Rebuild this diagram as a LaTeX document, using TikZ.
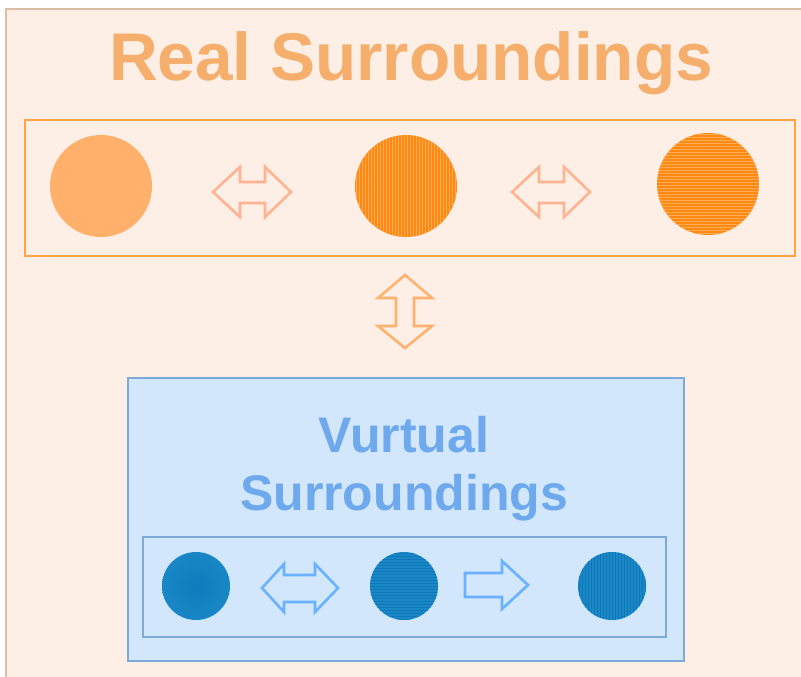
\documentclass[tikz,border=0pt]{standalone}
\usepackage{fontspec}
\setmainfont{Liberation Sans}
\definecolor{pagebg}{HTML}{FDEEE6}
\definecolor{pageedge}{HTML}{DDBFA8}
\definecolor{realtext}{HTML}{F5AE6C}
\definecolor{realframe}{HTML}{FFA346}
\definecolor{realsolid}{HTML}{FFB06A}
\definecolor{realdark}{HTML}{FF8A12}
\definecolor{reallight}{HTML}{FFAA55}
\definecolor{realarrow}{HTML}{FFB391}
\definecolor{relarrow}{HTML}{FFB36E}
\definecolor{virtfill}{HTML}{D2E6FC}
\definecolor{virtedge}{HTML}{7EAADA}
\definecolor{virttext}{HTML}{6EA9EE}
\definecolor{virtarrow}{HTML}{6AB2FF}
\definecolor{virtdot}{HTML}{1987C6}
\definecolor{virtdotdark}{HTML}{0F78B8}
\definecolor{virtdotcore}{HTML}{0E7CBC}
\tikzset{
  framebox/.style={draw=realframe, line width=1.3pt},
  virtbox/.style={draw=virtedge, fill=virtfill, line width=1.2pt},
  realhollow/.style={draw=realarrow, fill=pagebg, line width=2.6pt, line join=miter},
  linkhollow/.style={draw=relarrow, fill=pagebg, line width=2.6pt, line join=miter},
  virthollow/.style={draw=virtarrow, fill=virtfill, line width=2.6pt, line join=miter},
}
\begin{document}
\begin{tikzpicture}[x=1pt,y=-1pt]
\useasboundingbox (0,0) rectangle (801,677);
\begin{scope}
\clip (0,0) rectangle (801,677);
% page
\fill[white] (0,0) rectangle (801,677);
\draw[pageedge, fill=pagebg, line width=1.5pt] (6,9) rectangle (820,700);
\end{scope}

% title of the real part
\node[anchor=base, text=realtext, font=\fontsize{67.5}{68}\selectfont\bfseries, inner sep=0pt]
  (realtitle) at (411,81) {Real Surroundings};

% frame holding the real objects
\draw[framebox] (25,120) rectangle (795,256);

% real objects
\coordinate (r1) at (101,186);
\coordinate (r2) at (406,186);
\coordinate (r3) at (708,184);
\fill[realsolid] (r1) circle (51);
\fill[realdark] (r2) circle (51);
\begin{scope}
  \clip (r2) circle (51);
  \foreach \x in {356,359,...,458} \draw[reallight, line width=0.8pt] (\x,134) -- (\x,238);
\end{scope}
\fill[realdark] (r3) circle (51);
\begin{scope}
  \clip (r3) circle (51);
  \foreach \y in {134,137,...,236} \draw[reallight, line width=0.8pt] (656,\y) -- (760,\y);
\end{scope}

% hollow double arrows between the real objects
\draw[realhollow] (213,192) -- (240,167) -- (240,182) -- (265,182) -- (265,167) -- (291,192)
  -- (265,217) -- (265,203) -- (240,203) -- (240,217) -- cycle;
\draw[realhollow] (512,192) -- (539,167) -- (539,182) -- (564,182) -- (564,167) -- (590,192)
  -- (564,217) -- (564,203) -- (539,203) -- (539,217) -- cycle;

% link between the real and the virtual part
\draw[linkhollow] (405,275) -- (432,298) -- (414,298) -- (414,326) -- (432,326) -- (405,348)
  -- (378,326) -- (396,326) -- (396,298) -- (378,298) -- cycle;

% virtual part
\draw[virtbox] (128,378) rectangle (684,661);
\node[anchor=base, text=virttext, font=\fontsize{50}{50}\selectfont\bfseries, inner sep=0pt]
  (virttitle1) at (404,452) {Vurtual};
\node[anchor=base, text=virttext, font=\fontsize{50}{50}\selectfont\bfseries, inner sep=0pt]
  (virttitle2) at (404,510) {Surroundings};
\draw[draw=virtedge, line width=1.2pt] (143,537) rectangle (666,637);

% virtual objects
\coordinate (v1) at (196,586);
\coordinate (v2) at (404,586);
\coordinate (v3) at (612,586);
\shade[inner color=virtdotcore, outer color=virtdot] (v1) circle (34);
\fill[virtdot] (v2) circle (34);
\begin{scope}
  \clip (v2) circle (34);
  \foreach \y in {553,556,...,621} \draw[virtdotdark, line width=0.9pt] (369,\y) -- (439,\y);
\end{scope}
\fill[virtdot] (v3) circle (34);
\begin{scope}
  \clip (v3) circle (34);
  \foreach \x in {579,582,...,647} \draw[virtdotdark, line width=0.9pt] (\x,551) -- (\x,621);
\end{scope}

% hollow arrows between the virtual objects
\draw[virthollow] (262,588) -- (284,564) -- (284,575) -- (315,575) -- (315,564) -- (338,588)
  -- (315,612) -- (315,602) -- (284,602) -- (284,612) -- cycle;
\draw[virthollow] (465,573) -- (502,573) -- (502,561) -- (528,585) -- (502,609) -- (502,597)
  -- (465,597) -- cycle;
\end{tikzpicture}
\end{document}
